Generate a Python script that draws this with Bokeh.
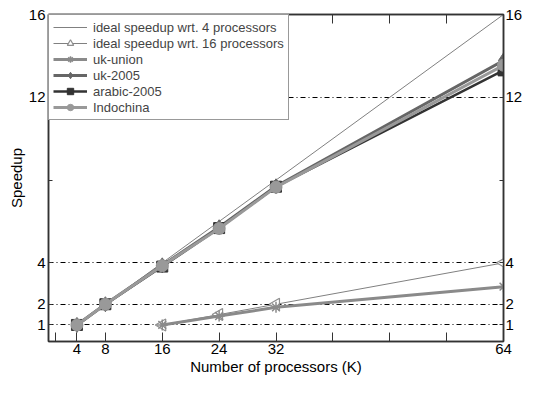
from bokeh.plotting import figure
from bokeh.models import LinearAxis, FixedTicker, Range1d, Legend, LegendItem
from bokeh.embed import file_html
from bokeh.resources import INLINE

# ---- data ----
procs = [4, 8, 16, 24, 32, 64]
procs16 = [16, 24, 32, 64]
ideal4_x = [4, 64]
ideal4_y = [1, 16]
ideal16_y = [1, 1.5, 2, 4]
uk_union = [1, 1.43, 1.85, 2.85]
uk_2005 = [1, 2, 3.88, 5.72, 7.70, 13.78]
arabic_2005 = [1, 2, 3.82, 5.68, 7.68, 13.30]
indochina = [1, 2, 3.86, 5.66, 7.66, 13.55]

x_ticks = [4, 8, 16, 24, 32, 64]
x_minor = [1, 40, 48, 56]
y_ticks = [1, 2, 4, 12, 16]
y_minor = [8]
grid_y = [1, 2, 4, 12]

FONT = "Liberation Sans"

p = figure(width=525, height=377, x_range=Range1d(0, 64), y_range=Range1d(0.2, 16),
           output_backend="svg", toolbar_location=None,
           x_axis_location=None, y_axis_location=None,
           min_border_top=14, min_border_right=0, min_border_bottom=0, min_border_left=48)
p.outline_line_color = "#333333"
p.outline_line_width = 1.5
p.background_fill_color = "white"
p.border_fill_color = "white"


def style_axis(ax, ticks, minor, tick_len=9, minor_len=9):
    ax.ticker = FixedTicker(ticks=ticks, minor_ticks=minor)
    ax.major_tick_in = tick_len
    ax.major_tick_out = 0
    ax.minor_tick_in = minor_len
    ax.minor_tick_out = 0
    ax.axis_line_color = "#333333"
    ax.axis_line_width = 1.5
    ax.major_tick_line_color = "#333333"
    ax.minor_tick_line_color = "#333333"
    ax.major_label_text_font = FONT
    ax.major_label_text_font_size = "15px"
    ax.major_label_text_color = "black"
    ax.major_label_standoff = 3
    ax.axis_label_text_font = FONT
    ax.axis_label_text_font_size = "15px"
    ax.axis_label_text_font_style = "normal"
    ax.axis_label_text_color = "black"
    ax.axis_label_standoff = 1


bottom = LinearAxis(axis_label="Number of processors (K)")
style_axis(bottom, x_ticks, x_minor)
bottom.major_label_standoff = 2
top = LinearAxis()
style_axis(top, [], x_ticks + x_minor)
left = LinearAxis(axis_label="Speedup")
style_axis(left, y_ticks, y_minor, tick_len=4, minor_len=4)
right = LinearAxis()
style_axis(right, y_ticks, y_minor, tick_len=4, minor_len=4)
right.major_label_standoff = 2
p.add_layout(bottom, "below")
p.add_layout(top, "above")
p.add_layout(left, "left")
p.add_layout(right, "right")

p.xgrid.visible = False
p.ygrid.ticker = FixedTicker(ticks=grid_y)
p.ygrid.grid_line_color = "black"
p.ygrid.grid_line_dash = "5 3 1 3"
p.ygrid.grid_line_width = 1

# ---- series ----
r1 = p.line(ideal4_x, ideal4_y, line_color="#808080", line_width=1)

r2l = p.line(procs16, ideal16_y, line_color="#808080", line_width=1)
r2m = p.scatter(procs16, ideal16_y, marker="triangle", angle=90, angle_units="deg", size=12,
                fill_color="white", line_color="#909090", line_width=1.2)

r3l = p.line(procs16, uk_union, line_color="#8a8a8a", line_width=3)
r3m = p.scatter(procs16, uk_union, marker="asterisk", size=11, line_color="#8a8a8a", line_width=1.5)

r4l = p.line(procs, uk_2005, line_color="#666666", line_width=3)
r4m = p.scatter(procs, uk_2005, marker="diamond", size=15, fill_color="#666666", line_color="#666666")

r5l = p.line(procs, arabic_2005, line_color="#333333", line_width=2.5)
r5m = p.scatter(procs, arabic_2005, marker="square", size=11, fill_color="#333333", line_color="#333333")

r6l = p.line(procs, indochina, line_color="#999999", line_width=3)
r6m = p.scatter(procs, indochina, marker="circle", size=12, fill_color="#999999", line_color="#999999")

legend = Legend(items=[
    LegendItem(label="ideal speedup wrt. 4 processors", renderers=[r1]),
    LegendItem(label="ideal speedup wrt. 16 processors", renderers=[r2l, r2m]),
    LegendItem(label="uk-union", renderers=[r3l, r3m]),
    LegendItem(label="uk-2005", renderers=[r4l, r4m]),
    LegendItem(label="arabic-2005", renderers=[r5l, r5m]),
    LegendItem(label="Indochina", renderers=[r6l, r6m]),
], location="top_left")
legend.margin = 0
legend.padding = 4
legend.spacing = 0
legend.label_text_font = FONT
legend.label_text_font_size = "13px"
legend.label_height = 16
legend.glyph_height = 16
legend.glyph_width = 34
legend.label_standoff = 6
legend.border_line_color = "#333333"
legend.border_line_width = 1
legend.background_fill_alpha = 1
p.add_layout(legend, "center")

open("out.html", "w").write(file_html(p, INLINE))
